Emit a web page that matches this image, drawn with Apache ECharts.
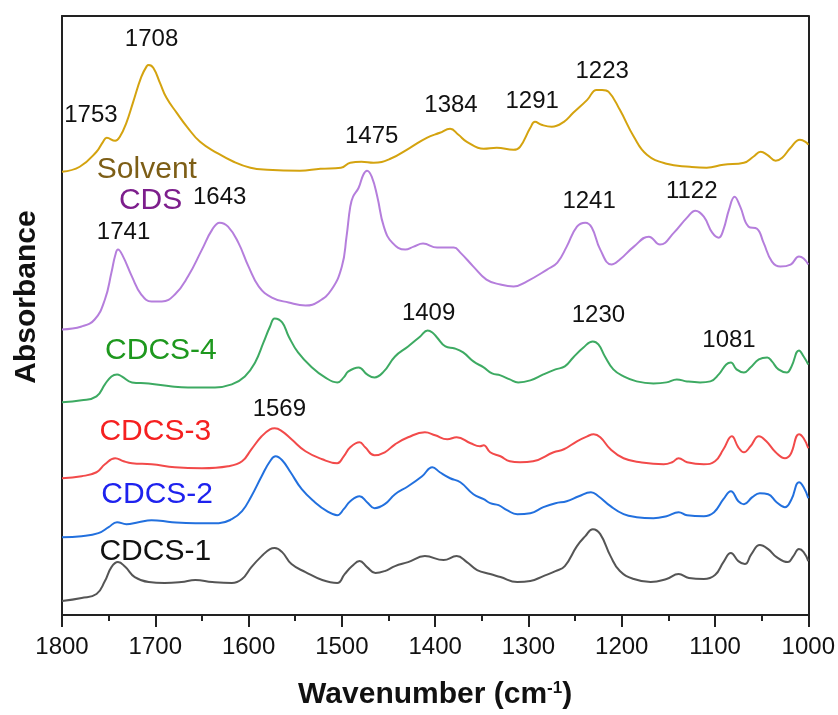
<!DOCTYPE html>
<html>
<head>
<meta charset="utf-8">
<script src="https://cdn.jsdelivr.net/npm/echarts@6/dist/echarts.min.js"></script>
<style>
  html, body { margin: 0; padding: 0; background: #ffffff; }
  #chart { width: 838px; height: 715px; }
</style>
</head>
<body>
<div id="chart"></div>
<script>
// FTIR spectra, stacked with vertical offsets: [wavenumber (cm-1), absorbance (a.u.)]
const solvent = [[1800,4.44],[1781,4.49],[1763,4.64],[1756,4.74],[1752,4.78],[1743,4.75],[1738,4.79],[1731,4.93],[1724,5.13],[1715,5.39],[1709,5.50],[1707,5.51],[1702,5.48],[1695,5.33],[1688,5.18],[1677,5.03],[1666,4.89],[1652,4.74],[1634,4.63],[1616,4.54],[1598,4.48],[1580,4.46],[1545,4.45],[1523,4.47],[1501,4.48],[1491,4.53],[1479,4.54],[1466,4.53],[1448,4.57],[1427,4.68],[1409,4.78],[1395,4.83],[1384,4.87],[1375,4.81],[1366,4.74],[1348,4.67],[1334,4.68],[1316,4.66],[1309,4.69],[1298,4.88],[1293,4.94],[1286,4.91],[1275,4.89],[1262,4.94],[1252,5.03],[1237,5.16],[1227,5.26],[1221,5.26],[1214,5.24],[1202,5.06],[1187,4.79],[1173,4.61],[1152,4.52],[1127,4.49],[1109,4.48],[1091,4.51],[1069,4.53],[1059,4.59],[1051,4.64],[1044,4.61],[1035,4.55],[1028,4.58],[1019,4.68],[1009,4.76],[1003,4.74],[1000,4.71]];

const cds = [[1800,2.86],[1779,2.89],[1765,2.96],[1754,3.16],[1747,3.43],[1743,3.60],[1740,3.66],[1735,3.60],[1725,3.39],[1715,3.21],[1704,3.14],[1693,3.14],[1679,3.21],[1665,3.39],[1650,3.66],[1639,3.86],[1631,3.93],[1622,3.89],[1611,3.73],[1600,3.49],[1589,3.29],[1575,3.18],[1557,3.13],[1539,3.10],[1525,3.14],[1511,3.26],[1500,3.49],[1495,3.79],[1491,4.09],[1488,4.19],[1482,4.28],[1477,4.41],[1473,4.45],[1468,4.39],[1462,4.19],[1455,3.89],[1446,3.73],[1432,3.66],[1423,3.69],[1413,3.72],[1398,3.68],[1380,3.68],[1373,3.63],[1359,3.49],[1345,3.36],[1330,3.31],[1316,3.29],[1302,3.34],[1280,3.46],[1269,3.53],[1259,3.69],[1248,3.89],[1239,3.93],[1232,3.88],[1223,3.66],[1211,3.51],[1202,3.56],[1187,3.69],[1171,3.79],[1159,3.71],[1144,3.83],[1130,3.98],[1121,4.05],[1112,3.99],[1103,3.83],[1096,3.78],[1091,3.86],[1085,4.06],[1079,4.19],[1073,4.09],[1064,3.89],[1055,3.87],[1048,3.73],[1039,3.54],[1030,3.49],[1019,3.51],[1010,3.59],[1005,3.57],[1000,3.51]];

const cdcs4 = [[1800,2.13],[1779,2.15],[1763,2.19],[1754,2.31],[1747,2.39],[1741,2.41],[1736,2.39],[1725,2.33],[1707,2.32],[1682,2.29],[1665,2.28],[1636,2.28],[1618,2.31],[1604,2.39],[1593,2.53],[1584,2.73],[1577,2.89],[1572,2.97],[1564,2.93],[1557,2.79],[1547,2.63],[1532,2.48],[1518,2.38],[1505,2.33],[1498,2.38],[1493,2.44],[1482,2.48],[1473,2.41],[1465,2.38],[1455,2.44],[1443,2.59],[1429,2.69],[1416,2.79],[1408,2.85],[1403,2.83],[1398,2.78],[1389,2.69],[1379,2.67],[1370,2.63],[1359,2.54],[1348,2.48],[1339,2.42],[1330,2.40],[1320,2.36],[1311,2.33],[1298,2.35],[1284,2.41],[1271,2.46],[1261,2.49],[1252,2.58],[1241,2.68],[1231,2.74],[1225,2.71],[1218,2.59],[1209,2.46],[1198,2.39],[1184,2.34],[1166,2.32],[1152,2.33],[1141,2.36],[1130,2.34],[1116,2.33],[1105,2.34],[1096,2.41],[1088,2.51],[1083,2.53],[1077,2.46],[1069,2.43],[1062,2.48],[1053,2.56],[1044,2.58],[1039,2.54],[1032,2.46],[1023,2.43],[1018,2.49],[1010,2.65],[1005,2.59],[1000,2.51]];

const cdcs3 = [[1800,1.37],[1779,1.39],[1763,1.43],[1754,1.51],[1743,1.57],[1734,1.54],[1725,1.52],[1704,1.51],[1679,1.48],[1650,1.47],[1622,1.49],[1607,1.54],[1597,1.66],[1586,1.79],[1577,1.86],[1572,1.87],[1564,1.84],[1554,1.76],[1539,1.64],[1521,1.56],[1505,1.52],[1498,1.59],[1491,1.68],[1481,1.73],[1475,1.68],[1465,1.60],[1454,1.63],[1443,1.71],[1429,1.78],[1411,1.83],[1400,1.80],[1387,1.76],[1377,1.78],[1362,1.72],[1352,1.69],[1348,1.70],[1341,1.63],[1330,1.59],[1320,1.54],[1309,1.53],[1295,1.54],[1273,1.63],[1262,1.66],[1248,1.74],[1237,1.79],[1230,1.81],[1223,1.78],[1212,1.66],[1198,1.57],[1180,1.53],[1155,1.51],[1146,1.53],[1139,1.57],[1130,1.53],[1112,1.51],[1100,1.54],[1091,1.66],[1082,1.79],[1075,1.68],[1069,1.63],[1062,1.69],[1053,1.79],[1045,1.74],[1035,1.63],[1025,1.57],[1019,1.61],[1010,1.81],[1005,1.77],[1000,1.67]];

const cdcs2 = [[1800,0.78],[1779,0.79],[1761,0.82],[1750,0.88],[1741,0.93],[1731,0.91],[1718,0.93],[1704,0.95],[1682,0.93],[1657,0.92],[1632,0.92],[1618,0.96],[1607,1.04],[1597,1.19],[1586,1.39],[1577,1.54],[1571,1.59],[1564,1.55],[1555,1.43],[1543,1.26],[1529,1.13],[1516,1.04],[1505,1.00],[1498,1.06],[1491,1.14],[1481,1.19],[1473,1.13],[1465,1.07],[1454,1.11],[1443,1.21],[1429,1.29],[1414,1.39],[1403,1.48],[1395,1.43],[1384,1.37],[1373,1.33],[1359,1.21],[1348,1.16],[1341,1.12],[1332,1.10],[1323,1.05],[1312,1.01],[1298,1.02],[1284,1.08],[1271,1.12],[1259,1.14],[1246,1.19],[1233,1.23],[1225,1.19],[1212,1.09],[1198,1.01],[1184,0.98],[1166,0.97],[1152,0.99],[1139,1.03],[1130,1.00],[1112,0.99],[1101,1.03],[1091,1.16],[1083,1.24],[1075,1.14],[1069,1.11],[1060,1.18],[1052,1.22],[1043,1.21],[1034,1.13],[1025,1.08],[1018,1.16],[1010,1.33],[1005,1.28],[1000,1.17]];

const cdcs1 = [[1800,0.14],[1779,0.17],[1763,0.21],[1754,0.34],[1747,0.48],[1740,0.53],[1732,0.48],[1722,0.38],[1707,0.33],[1690,0.32],[1672,0.33],[1657,0.35],[1639,0.33],[1618,0.32],[1607,0.36],[1597,0.48],[1586,0.59],[1577,0.66],[1572,0.67],[1564,0.63],[1554,0.51],[1539,0.43],[1521,0.35],[1505,0.32],[1497,0.41],[1489,0.49],[1481,0.54],[1473,0.48],[1464,0.42],[1454,0.44],[1443,0.49],[1429,0.53],[1411,0.59],[1391,0.55],[1377,0.59],[1366,0.53],[1355,0.45],[1341,0.41],[1330,0.38],[1312,0.33],[1298,0.34],[1284,0.39],[1271,0.44],[1261,0.49],[1248,0.69],[1239,0.79],[1231,0.86],[1223,0.81],[1212,0.59],[1202,0.44],[1187,0.36],[1169,0.33],[1152,0.36],[1139,0.41],[1128,0.37],[1112,0.36],[1100,0.40],[1091,0.53],[1083,0.62],[1075,0.54],[1068,0.51],[1061,0.61],[1052,0.70],[1043,0.66],[1034,0.58],[1022,0.53],[1016,0.59],[1010,0.66],[1005,0.63],[1000,0.54]];

const sampleNames = ['Solvent', 'CDS', 'CDCS-4', 'CDCS-3', 'CDCS-2', 'CDCS-1'];
const sampleSpectra = [solvent, cds, cdcs4, cdcs3, cdcs2, cdcs1];

// Where each sample name is written: [wavenumber, absorbance]
const sampleNameAt = [[1709,4.46],[1705,4.15],[1694,2.65],[1700,1.84],[1698,1.20],[1700,0.63]];

// Peak assignments: [text, wavenumber, absorbance] of the text centre
const peakNotes = [
  ['1753',1769,5.00],['1708',1704,5.765],['1475',1468,4.79],['1384',1383,5.10],
  ['1291',1296,5.14],['1223',1221,5.45],['1643',1631,4.18],['1741',1734,3.83],
  ['1241',1235,4.14],['1122',1125,4.24],['1409',1407,3.02],['1230',1225,3.00],
  ['1081',1085,2.75],['1569',1567,2.055]
];

// Wavenumber axis range and step
const xMin = 1000, xMax = 1800, xStep = 100;
const yMin = 0, yMax = 6;

const lineColors = ['#D4A30F', '#B57EDC', '#3DAA62', '#F24A4A', '#2270DE', '#555555'];
const nameColors = ['#7D5E16', '#7D1E8C', '#1E981E', '#F52020', '#1E22EE', '#111111'];
const FONT = '"Liberation Sans", Arial, Helvetica, sans-serif';
const frame = { color: '#222222', width: 2 };

const chart = echarts.init(document.getElementById('chart'), null, { renderer: 'canvas' });

const lineSeries = sampleSpectra.map((data, i) => ({
  name: sampleNames[i],
  type: 'line',
  data: data,
  showSymbol: false,
  smooth: 0.45,
  lineStyle: { color: lineColors[i], width: 2 },
  itemStyle: { color: lineColors[i] },
  silent: true,
  z: 3
}));

// Text-only scatter: invisible anchor, fully opaque label
function textLayer(items) {
  return {
    type: 'scatter',
    silent: true,
    symbol: 'circle',
    symbolSize: 1,
    itemStyle: { color: 'rgba(0,0,0,0)', opacity: 1 },
    z: 5,
    data: items
  };
}

const nameSeries = textLayer(sampleNames.map((n, i) => ({
  value: sampleNameAt[i],
  label: {
    show: true, position: 'inside', formatter: n, opacity: 1,
    color: nameColors[i], fontSize: 30, fontFamily: FONT
  }
})));

const peakSeries = textLayer(peakNotes.map(p => ({
  value: [p[1], p[2]],
  label: {
    show: true, position: 'inside', formatter: p[0], opacity: 1,
    color: '#111111', fontSize: 24, fontFamily: FONT
  }
})));

chart.setOption({
  animation: false,
  backgroundColor: '#ffffff',
  grid: { left: 62, right: 29, top: 16, bottom: 99, containLabel: false },
  xAxis: [
    {
      type: 'value', min: xMin, max: xMax, interval: xStep, inverse: true, position: 'bottom',
      axisLine: { show: true, onZero: false, lineStyle: frame },
      axisTick: { show: true, inside: false, length: 12, lineStyle: frame },
      minorTick: { show: true, splitNumber: 2, length: 6, lineStyle: frame },
      axisLabel: {
        fontSize: 24, color: '#111111', margin: 20, fontFamily: FONT,
        formatter: v => String(v)
      },
      splitLine: { show: false },
      minorSplitLine: { show: false },
      name: '{a|Wavenumber (cm}{s|-1}{a|)}',
      nameLocation: 'middle',
      nameGap: 65,
      nameTextStyle: {
        rich: {
          a: { fontSize: 30, fontWeight: 'bold', color: '#111111', fontFamily: FONT },
          s: { fontSize: 17, fontWeight: 'bold', color: '#111111', fontFamily: FONT, verticalAlign: 'top' }
        }
      }
    },
    {
      type: 'value', min: xMin, max: xMax, inverse: true, position: 'top',
      axisLine: { show: true, onZero: false, lineStyle: frame },
      axisTick: { show: false }, axisLabel: { show: false }, splitLine: { show: false }
    }
  ],
  yAxis: [
    {
      type: 'value', min: yMin, max: yMax, position: 'left',
      axisLine: { show: true, onZero: false, lineStyle: frame },
      axisTick: { show: false }, axisLabel: { show: false }, splitLine: { show: false }
    },
    {
      type: 'value', min: yMin, max: yMax, position: 'right',
      axisLine: { show: true, onZero: false, lineStyle: frame },
      axisTick: { show: false }, axisLabel: { show: false }, splitLine: { show: false }
    }
  ],
  graphic: [
    {
      type: 'text',
      x: 27, y: 297,
      rotation: Math.PI / 2,
      silent: true,
      style: {
        text: 'Absorbance',
        font: 'bold 30px ' + FONT,
        fill: '#111111',
        align: 'center',
        verticalAlign: 'middle'
      }
    }
  ],
  series: lineSeries.concat([nameSeries, peakSeries])
});
</script>
</body>
</html>
